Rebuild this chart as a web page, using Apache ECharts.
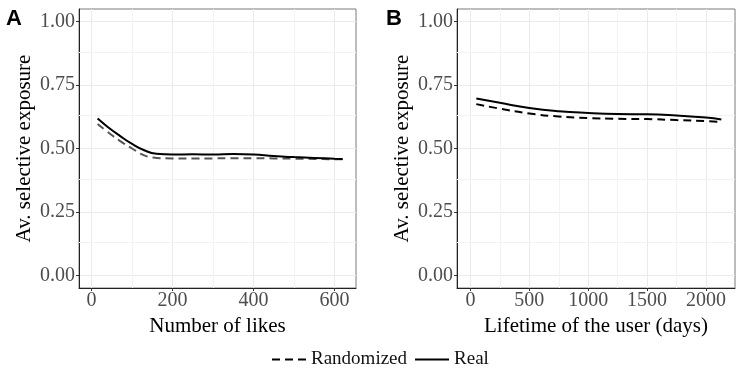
<!DOCTYPE html>
<html>
<head>
<meta charset="utf-8">
<script src="https://cdn.jsdelivr.net/npm/echarts@6/dist/echarts.min.js"></script>
<style>
  html, body { margin: 0; padding: 0; background: #fff; }
  #chart { width: 746px; height: 375px; }
</style>
</head>
<body>
<div id="chart"></div>
<script>
// panel A: number of likes
const likesX = [15, 40, 70, 100, 130, 160, 200, 250, 300, 350, 400, 450, 500, 550, 600, 620]
const likesReal = [0.618, 0.585, 0.550, 0.518, 0.493, 0.479, 0.476, 0.477, 0.476, 0.478, 0.476, 0.470, 0.466, 0.463, 0.460, 0.459]
const likesRand = [0.597, 0.565, 0.530, 0.500, 0.473, 0.463, 0.461, 0.461, 0.461, 0.462, 0.462, 0.461, 0.460, 0.459, 0.458, 0.458]

// panel B: lifetime of the user (days)
const lifeX = [50, 250, 500, 750, 1000, 1250, 1500, 1750, 2000, 2130]
const lifeReal = [0.697, 0.680, 0.660, 0.647, 0.640, 0.636, 0.635, 0.630, 0.622, 0.614]
const lifeRand = [0.675, 0.657, 0.638, 0.626, 0.620, 0.617, 0.616, 0.612, 0.608, 0.605]

// ticks
const yTicks = [0, 0.25, 0.5, 0.75, 1]
const yMinor = [0.125, 0.375, 0.625, 0.875]
const likesTicks = [0, 200, 400, 600]
const likesMinor = [100, 300, 500]
const lifeTicks = [0, 500, 1000, 1500, 2000]
const lifeMinor = [250, 750, 1250, 1750]

const serif = '"Liberation Serif", "DejaVu Serif", serif'
const pairs = (xs, ys) => xs.map((x, i) => [x, ys[i]])

const myChart = echarts.init(document.getElementById("chart"))

function xAxis(gridIndex, min, max, ticks, name) {
  return {
    type: "value",
    gridIndex: gridIndex,
    min: min,
    max: max,
    name: name,
    nameLocation: "middle",
    nameGap: 19,
    nameTextStyle: { fontFamily: serif, fontSize: 21, color: "#000" },
    axisLine: { show: true, onZero: false, lineStyle: { color: "#222", width: 1 } },
    axisTick: { show: true, length: 3, customValues: ticks, lineStyle: { color: "#333" } },
    axisLabel: {
      customValues: ticks,
      margin: 3,
      fontFamily: serif,
      fontSize: 20,
      color: "#4d4d4d",
      formatter: (v) => String(v)
    },
    splitLine: { show: true, lineStyle: { color: "#ebebeb", width: 1 } }
  }
}

function yAxis(gridIndex) {
  return {
    type: "value",
    gridIndex: gridIndex,
    min: -0.05,
    max: 1.05,
    name: "Av. selective exposure",
    nameLocation: "middle",
    nameGap: 44,
    nameTextStyle: { fontFamily: serif, fontSize: 21, color: "#000" },
    axisLine: { show: true, onZero: false, lineStyle: { color: "#222", width: 1 } },
    axisTick: { show: true, length: 3, customValues: yTicks, lineStyle: { color: "#333" } },
    axisLabel: {
      customValues: yTicks,
      margin: 4,
      fontFamily: serif,
      fontSize: 20,
      color: "#4d4d4d",
      formatter: (v) => v.toFixed(2)
    },
    splitLine: { show: true, lineStyle: { color: "#ebebeb", width: 1 } }
  }
}

// faint minor grid lines, drawn as mark lines under the curves
function minorGrid(idx, xs) {
  return {
    type: "line",
    xAxisIndex: idx,
    yAxisIndex: idx,
    data: [],
    silent: true,
    z: 1,
    markLine: {
      z: 1,
      symbol: "none",
      silent: true,
      label: { show: false },
      lineStyle: { color: "#f3f3f3", width: 1, type: "solid" },
      data: xs.map((v) => ({ xAxis: v })).concat(yMinor.map((v) => ({ yAxis: v })))
    }
  }
}

function curve(idx, name, data, color, dashed) {
  return {
    type: "line",
    name: name,
    xAxisIndex: idx,
    yAxisIndex: idx,
    data: data,
    smooth: true,
    symbol: "none",
    z: 6,
    itemStyle: { color: color },
    lineStyle: { color: color, width: 2, type: dashed ? [8, 5] : "solid" }
  }
}

const option = {
  animation: false,
  backgroundColor: "#fff",
  grid: [
    { left: 79, right: 390, top: 9, bottom: 87, show: true, borderColor: "#7a7a7a", borderWidth: 1 },
    { left: 457, right: 11, top: 9, bottom: 87, show: true, borderColor: "#7a7a7a", borderWidth: 1 }
  ],
  xAxis: [
    xAxis(0, -31, 653, likesTicks, "Number of likes"),
    xAxis(1, -114, 2246, lifeTicks, "Lifetime of the user (days)")
  ],
  yAxis: [yAxis(0), yAxis(1)],
  legend: {
    left: 266,
    top: 345,
    itemWidth: 34,
    itemHeight: 14,
    itemGap: 7,
    itemStyle: { opacity: 0 },
    textStyle: { fontFamily: serif, fontSize: 19, color: "#111" },
    data: ["Randomized", "Real"]
  },
  graphic: [
    { type: "text", x: 6, y: 19, style: { text: "A", font: 'bold 22px "Liberation Sans", Arial, sans-serif', fill: "#000", verticalAlign: "middle" } },
    { type: "text", x: 386, y: 19, style: { text: "B", font: 'bold 22px "Liberation Sans", Arial, sans-serif', fill: "#000", verticalAlign: "middle" } }
  ],
  series: [
    minorGrid(0, likesMinor),
    minorGrid(1, lifeMinor),
    curve(1, "Randomized", pairs(lifeX, lifeRand), "#000", true),
    curve(1, "Real", pairs(lifeX, lifeReal), "#000", false),
    curve(0, "Randomized", pairs(likesX, likesRand), "#555", true),
    curve(0, "Real", pairs(likesX, likesReal), "#000", false)
  ]
}

myChart.setOption(option)
</script>
</body>
</html>
